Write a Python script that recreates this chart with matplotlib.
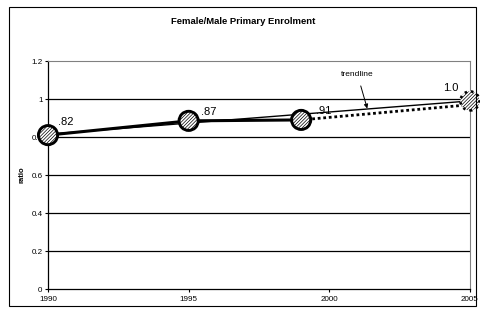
import matplotlib.pyplot as plt
from matplotlib.patches import Rectangle

plt.rcParams["font.family"] = ["Liberation Sans", "DejaVu Sans"]
plt.rcParams["hatch.linewidth"] = 0.5

# actual observations
years = [1990, 1995, 1999]
ratio = [0.81, 0.885, 0.89]
labels = [".82", ".87", ".91"]

# projection to 2005
proj_years = [1999, 2005]
proj_ratio = [0.89, 0.97]
target_year = 2005
target_ratio = 0.99
target_label = "1.0"

# trendline endpoints
trend_years = [1990, 2005]
trend_ratio = [0.815, 0.99]

fig = plt.figure(figsize=(4.8, 3.16), dpi=100)
ax = fig.add_axes([0.1, 0.0854, 0.879, 0.7215])

# outer chart border
fig.patches.append(Rectangle((9 / 480, 1 - 306 / 316), 467 / 480, 299 / 316,
                             transform=fig.transFigure, fill=False,
                             edgecolor="black", linewidth=0.8))

for y in [0.2, 0.4, 0.6, 0.8, 1.0]:
    ax.axhline(y, color="black", linewidth=0.9, zorder=1)

ax.plot(trend_years, trend_ratio, color="black", linewidth=1.0, zorder=2)
ax.plot(proj_years, proj_ratio, color="black", linewidth=2.0, linestyle=(0, (1, 1)), zorder=2)
ax.plot(years, ratio, color="black", linewidth=2.2, zorder=3)

ax.scatter(years, ratio, s=190, facecolor="white", edgecolor="black",
           linewidth=2.1, hatch="//////////", zorder=4, clip_on=False)
ax.scatter([target_year], [target_ratio], s=190, facecolor="white", edgecolor="black",
           linewidth=1.8, hatch="//////////", linestyle=":", zorder=4, clip_on=False)

offsets = [(7, 6), (9, 3), (11, 3)]
for x, y, lab, off in zip(years, ratio, labels, offsets):
    ax.annotate(lab, (x, y), xytext=off, textcoords="offset points",
                fontsize=8, ha="left", va="bottom")
ax.annotate(target_label, (target_year, target_ratio), xytext=(-8, 6),
            textcoords="offset points", fontsize=8, ha="right", va="bottom")

ax.annotate("trendline", xy=(2001.35, 0.95), xytext=(2001.0, 1.13),
            fontsize=6, ha="center", va="center",
            arrowprops=dict(arrowstyle="-|>", color="black", linewidth=0.7,
                            mutation_scale=6, shrinkA=4, shrinkB=0))

ax.set_xlim(1990, 2005)
ax.set_ylim(0, 1.2)
ax.set_xticks([1990, 1995, 2000, 2005])
ax.set_yticks([0, 0.2, 0.4, 0.6, 0.8, 1, 1.2])
ax.set_yticklabels(["0", "0.2", "0.4", "0.6", "0.8", "1", "1.2"])
ax.tick_params(labelsize=5.8, length=2, width=0.8, direction="out", pad=2)
ax.tick_params(axis="x", pad=3)

for side in ["top", "right"]:
    ax.spines[side].set_color("gray")
    ax.spines[side].set_linewidth(0.8)
for side in ["left", "bottom"]:
    ax.spines[side].set_color("black")
    ax.spines[side].set_linewidth(0.9)

ax.set_ylabel("ratio", fontsize=5.5, fontweight="bold", labelpad=4)
fig.text(0.506, 1 - 22 / 316, "Female/Male Primary Enrolment", fontsize=6.8,
         fontweight="bold", ha="center", va="center")

fig.savefig("out.png", dpi=100)
